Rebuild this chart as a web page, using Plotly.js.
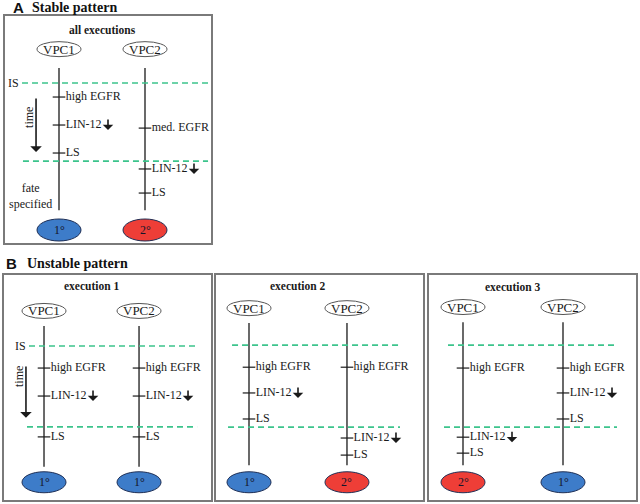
<!DOCTYPE html>
<html>
<head>
<meta charset="utf-8">
<script src="https://cdn.plot.ly/plotly-3.0.1.min.js"></script>
<style>html,body{margin:0;padding:0;background:#fff;}#chart{width:640px;height:504px;}</style>
</head>
<body>
<div id="chart"></div>
<script>
// ---------------- DATA ----------------
const panelTitles = ['all executions', 'execution 1', 'execution 2', 'execution 3'];
const cellNames = ['VPC1', 'VPC2'];
// events along each cell's time line (time in steps after the inductive signal IS)
const vpc1Events = [
  ['high EGFR', 'LIN-12', 'LS'],
  ['high EGFR', 'LIN-12', 'LS'],
  ['high EGFR', 'LIN-12', 'LS'],
  ['high EGFR', 'LIN-12', 'LS']
];
const vpc1Times = [
  [0.50, 1.50, 2.50],
  [0.79, 1.79, 3.25],
  [0.79, 1.71, 2.64],
  [0.82, 3.29, 3.86]
];
const vpc2Events = [
  ['med. EGFR', 'LIN-12', 'LS'],
  ['high EGFR', 'LIN-12', 'LS'],
  ['high EGFR', 'LIN-12', 'LS'],
  ['high EGFR', 'LIN-12', 'LS']
];
const vpc2Times = [
  [1.61, 3.07, 3.93],
  [0.79, 1.79, 3.25],
  [0.79, 3.32, 3.93],
  [0.82, 1.71, 2.64]
];
const downregulatedEvent = 'LIN-12';
const inductionTime = [0, 0, 0, 0];            // IS dashed line
const windowEndTime = [2.79, 2.89, 2.93, 2.93]; // second dashed line
const vpc1Fates = ['1°', '1°', '1°', '2°'];
const vpc2Fates = ['2°', '1°', '2°', '1°'];

// ---------------- LAYOUT / STYLE ----------------
const W = 640, H = 504;
const px = x => x / W;
const py = y => 1 - y / H;
const serif = 'Liberation Serif';
const sans = 'Liberation Sans';
const ink = '#1a1a1a';
const fateColors = {'1°': '#3d7cc9', '2°': '#ee3e37'};
const dashColor = '#3cc48c';

const panelBoxes = [[4, 15, 212, 244], [3, 274, 212, 501], [215, 274, 424, 501], [428, 274, 637, 501]];
const xRanges = [[0.3605, 2.779], [0.5684, 2.768], [0.653, 2.786], [0.65, 2.74]];
const yRanges = [[5.75, -2.43], [5.54, -2.57], [5.57, -2.54], [5.57, -2.54]];
const titleY = [-1.89, -2.13, -2.12, -2.09];
const vpcY = [-1.21, -1.25, -1.32, -1.36];
const lineTop = [-0.54, -0.71, -0.79, -0.82];
const lineBottom = [4.54, 4.32, 4.29, 4.29];
const fateY = [5.25, 4.87, 4.9, 4.9];
const isDashX = [[0.57, 2.733], [0.842, 2.611], [0.827, 2.541], [0.85, 2.54]];
const endDashX = [[0.581, 2.733], [0.821, 2.611], [0.786, 2.541], [0.81, 2.54]];

const traces = [];
const shapes = [];
const annotations = [];

for (let i = 0; i < 4; i++) {
  const xa = i === 0 ? 'x' : 'x' + (i + 1);
  const ya = i === 0 ? 'y' : 'y' + (i + 1);
  const b = panelBoxes[i];

  // panel frame
  shapes.push({type: 'rect', xref: 'paper', yref: 'paper', x0: px(b[0]), x1: px(b[2]), y0: py(b[3]), y1: py(b[1]),
    line: {color: '#7a7a7a', width: 2}, fillcolor: 'rgba(0,0,0,0)'});

  // cell time lines
  traces.push({type: 'scatter', mode: 'lines', xaxis: xa, yaxis: ya, hoverinfo: 'skip', showlegend: false,
    x: [1, 1, null, 2, 2], y: [lineTop[i], lineBottom[i], null, lineTop[i], lineBottom[i]],
    line: {color: ink, width: 1.3}});

  // events
  const evs = [vpc1Events[i], vpc2Events[i]];
  const tms = [vpc1Times[i], vpc2Times[i]];
  for (let c = 0; c < 2; c++) {
    traces.push({type: 'scatter', mode: 'markers+text', xaxis: xa, yaxis: ya, hoverinfo: 'skip', showlegend: false,
      x: tms[c].map(() => c + 1), y: tms[c], text: evs[c], textposition: 'middle right',
      marker: {symbol: 'line-ew-open', size: 9, line: {color: ink, width: 1.2}, color: ink},
      textfont: {family: serif, size: 12, color: ink}});
    evs[c].forEach((e, k) => {
      if (e === downregulatedEvent) {
        annotations.push({xref: xa, yref: ya, x: c + 1, y: tms[c][k], xshift: 49, yshift: -5,
          text: '', showarrow: true, ax: 0, ay: -12, arrowhead: 1, arrowsize: 1.1, arrowwidth: 1.6,
          arrowcolor: ink, standoff: 0});
      }
    });
  }

  // dashed lines
  shapes.push({type: 'line', xref: xa, yref: ya, x0: isDashX[i][0], x1: isDashX[i][1], y0: inductionTime[i], y1: inductionTime[i],
    line: {color: dashColor, width: 1.6, dash: '6px,4px'}});
  shapes.push({type: 'line', xref: xa, yref: ya, x0: endDashX[i][0], x1: endDashX[i][1], y0: windowEndTime[i], y1: windowEndTime[i],
    line: {color: dashColor, width: 1.6, dash: '6px,4px'}});

  // panel title
  annotations.push({xref: xa, yref: ya, x: 1.5, y: titleY[i], text: '<b>' + panelTitles[i] + '</b>', showarrow: false,
    font: {family: serif, size: 11.5, color: ink}});

  // VPC ellipses + fate ellipses
  const fates = [vpc1Fates[i], vpc2Fates[i]];
  for (let c = 0; c < 2; c++) {
    shapes.push({type: 'circle', xref: xa, yref: ya, xsizemode: 'pixel', ysizemode: 'pixel',
      xanchor: c + 1, yanchor: vpcY[i], x0: -22, x1: 22, y0: -7.5, y1: 7.5,
      line: {color: '#555', width: 1}, fillcolor: '#fff'});
    annotations.push({xref: xa, yref: ya, x: c + 1, y: vpcY[i], text: cellNames[c], showarrow: false,
      font: {family: serif, size: 13, color: ink}});
    const fh = i === 0 ? 11 : 10.5;
    shapes.push({type: 'circle', xref: xa, yref: ya, xsizemode: 'pixel', ysizemode: 'pixel',
      xanchor: c + 1, yanchor: fateY[i], x0: -22, x1: 22, y0: -fh, y1: fh,
      line: {color: '#1f2f55', width: 1}, fillcolor: fateColors[fates[c]]});
    annotations.push({xref: xa, yref: ya, x: c + 1, y: fateY[i], text: fates[c], showarrow: false,
      font: {family: serif, size: 12, color: '#15152a'}});
  }

  // IS labels
  if (i < 2) {
    annotations.push({xref: xa, yref: ya, x: isDashX[i][0], y: inductionTime[i], xanchor: 'right', xshift: -1,
      text: 'IS', showarrow: false, font: {family: serif, size: 12, color: ink}});
  }
}

// time arrows and notes (panel A and execution 1)
annotations.push({xref: 'x', yref: 'y', axref: 'x', ayref: 'y', x: 0.733, y: 2.46, ax: 0.733, ay: 0.5,
  text: '', showarrow: true, arrowhead: 1, arrowsize: 1.2, arrowwidth: 1.6, arrowcolor: ink, standoff: 0});
annotations.push({xref: 'x', yref: 'y', x: 0.651, y: 1.21, text: 'time', textangle: -90, showarrow: false,
  font: {family: serif, size: 12, color: ink}});
annotations.push({xref: 'x', yref: 'y', x: 0.663, y: 4.05, text: 'fate<br>specified', showarrow: false,
  font: {family: serif, size: 12, color: ink}});
annotations.push({xref: 'x2', yref: 'y2', axref: 'x2', ayref: 'y2', x: 0.81, y: 2.57, ax: 0.81, ay: 0.68,
  text: '', showarrow: true, arrowhead: 1, arrowsize: 1.2, arrowwidth: 1.6, arrowcolor: ink, standoff: 0});
annotations.push({xref: 'x2', yref: 'y2', x: 0.737, y: 1.11, text: 'time', textangle: -90, showarrow: false,
  font: {family: serif, size: 12, color: ink}});

// section headers
annotations.push({xref: 'paper', yref: 'paper', x: px(11), y: py(8), xanchor: 'left', yanchor: 'middle',
  text: '<b>A</b>', showarrow: false, font: {family: sans, size: 15, color: '#111'}});
annotations.push({xref: 'paper', yref: 'paper', x: px(30), y: py(8), xanchor: 'left', yanchor: 'middle',
  text: '<b>Stable pattern</b>', showarrow: false, font: {family: serif, size: 14, color: '#111'}});
annotations.push({xref: 'paper', yref: 'paper', x: px(4), y: py(263), xanchor: 'left', yanchor: 'middle',
  text: '<b>B</b>', showarrow: false, font: {family: sans, size: 15, color: '#111'}});
annotations.push({xref: 'paper', yref: 'paper', x: px(25), y: py(263), xanchor: 'left', yanchor: 'middle',
  text: '<b>Unstable pattern</b>', showarrow: false, font: {family: serif, size: 14, color: '#111'}});

const layout = {
  width: W, height: H, margin: {l: 0, r: 0, t: 0, b: 0},
  paper_bgcolor: '#fff', plot_bgcolor: 'rgba(0,0,0,0)', showlegend: false,
  shapes: shapes, annotations: annotations
};
for (let i = 0; i < 4; i++) {
  const b = panelBoxes[i];
  const xk = i === 0 ? 'xaxis' : 'xaxis' + (i + 1);
  const yk = i === 0 ? 'yaxis' : 'yaxis' + (i + 1);
  layout[xk] = {domain: [px(b[0]), px(b[2])], range: xRanges[i], visible: false, fixedrange: true,
    anchor: i === 0 ? 'y' : 'y' + (i + 1)};
  layout[yk] = {domain: [py(b[3]), py(b[1])], range: yRanges[i], visible: false, fixedrange: true,
    anchor: i === 0 ? 'x' : 'x' + (i + 1)};
}

Plotly.newPlot('chart', traces, layout, {staticPlot: true, displayModeBar: false});
</script>
</body>
</html>
